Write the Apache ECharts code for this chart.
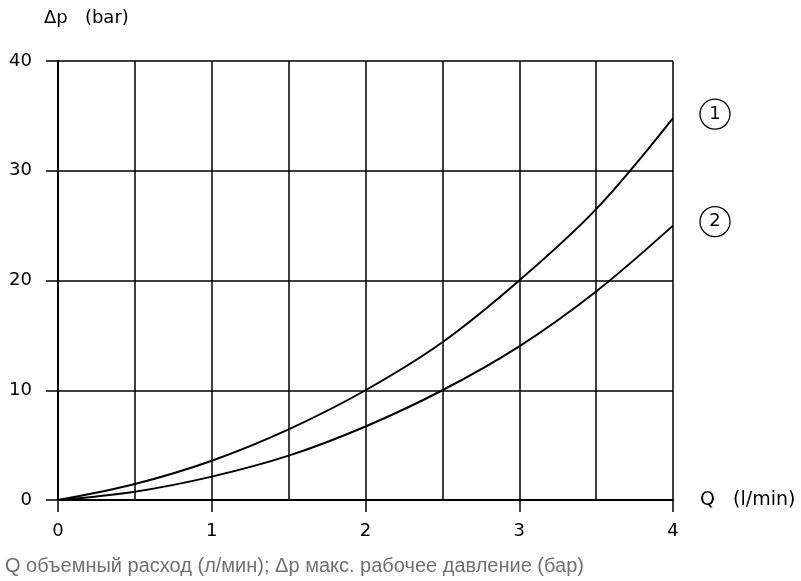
<!DOCTYPE html>
<html><head><meta charset="utf-8">
<script src="https://cdn.jsdelivr.net/npm/echarts@6/dist/echarts.min.js"></script>
<style>html,body{margin:0;padding:0;background:#fff}#c{width:801px;height:581px}</style>
</head><body><div id="c"></div>
<script>
const flow = [0, 0.5, 1, 1.5, 2, 2.5, 3, 3.5, 4];
const curve1 = [0, 1.46, 3.58, 6.44, 10, 14.37, 20, 26.5, 34.8];
const curve2 = [0, 0.76, 2.13, 4.04, 6.7, 10, 14.0, 19.0, 25.0];
const curveNames = ['1', '2'];
const yTicks = [0, 10, 20, 30, 40];
const xTicks = [0, 1, 2, 3, 4];
const caption = 'Q объемный расход (л/мин); Δp макс. рабочее давление (бар)';

const font = 'DejaVu Sans';
const chart = echarts.init(document.getElementById('c'), null, {renderer: 'canvas'});
function mk(vals, name) {
  return {
    type: 'line', name: name, data: flow.map((x, i) => [x, vals[i]]),
    smooth: 0.35, showSymbol: false, symbol: 'none',
    lineStyle: {color: '#000', width: 2}, z: 5,
    endLabel: {
      show: true, formatter: name, distance: 26, offset: [16, -4],
      color: '#000', fontFamily: font, fontSize: 18,
      width: 30, height: 30, lineHeight: 30, align: 'center',
      borderColor: '#000', borderWidth: 1.3, borderRadius: 16
    }
  };
}
chart.setOption({
  animation: false,
  title: {
    text: caption, left: 0, bottom: 0,
    textStyle: {fontFamily: 'Liberation Sans', fontWeight: 'normal', fontSize: 20, color: '#707070'}
  },
  grid: {left: 58, right: 128, top: 61, bottom: 81},
  xAxis: {
    type: 'value', min: xTicks[0], max: xTicks[xTicks.length - 1], interval: 1,
    name: 'Q   (l/min)', nameLocation: 'end', nameGap: 27,
    nameTextStyle: {fontFamily: font, fontSize: 19, color: '#000', verticalAlign: 'middle'},
    axisLine: {show: true, onZero: false, lineStyle: {color: '#000', width: 2}},
    axisTick: {show: true, length: 12, lineStyle: {color: '#000', width: 1.5}},
    axisLabel: {fontFamily: font, fontSize: 18, color: '#000', margin: 22},
    splitLine: {show: true, lineStyle: {color: '#000', width: 1.5}},
    minorTick: {show: false, splitNumber: 2},
    minorSplitLine: {show: true, lineStyle: {color: '#000', width: 1.5}}
  },
  yAxis: {
    type: 'value', min: yTicks[0], max: yTicks[yTicks.length - 1], interval: 10,
    name: 'Δp   (bar)', nameLocation: 'end', nameGap: 34,
    nameTextStyle: {fontFamily: font, fontSize: 18, color: '#000', align: 'left', padding: [0, 0, 0, -14]},
    axisLine: {show: true, lineStyle: {color: '#000', width: 2}},
    axisTick: {show: true, length: 12, lineStyle: {color: '#000', width: 1.5}},
    axisLabel: {fontFamily: font, fontSize: 18, color: '#000', margin: 26},
    splitLine: {show: true, lineStyle: {color: '#000', width: 1.5}}
  },
  series: [mk(curve1, curveNames[0]), mk(curve2, curveNames[1])]
});
</script></body></html>
